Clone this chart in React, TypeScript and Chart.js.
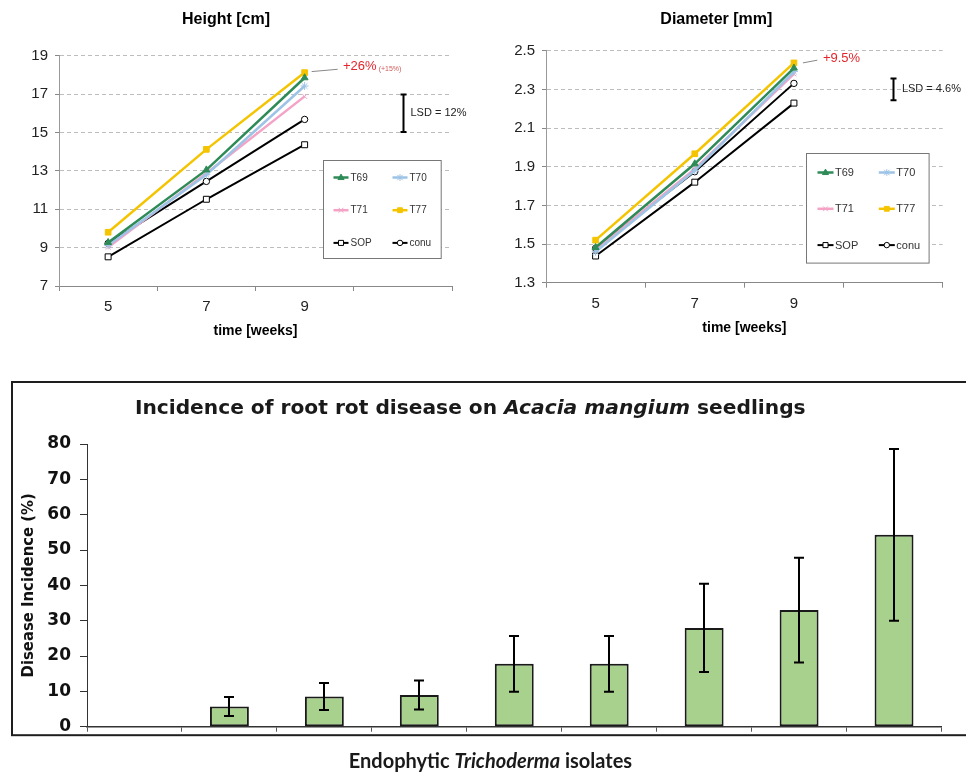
import React, { useEffect, useRef } from 'react';
import { Chart, registerables } from 'chart.js';

Chart.register(...registerables);

// ---------------- data ----------------
const WEEKS = ['5', '7', '9', ''];
const SERIES_NAMES = ['T69', 'T70', 'T71', 'T77', 'SOP', 'conu'];

const HEIGHT_T69 = [9.27, 13.05, 17.85];
const HEIGHT_T70 = [9.12, 12.8, 17.42];
const HEIGHT_T71 = [9.02, 12.88, 16.88];
const HEIGHT_T77 = [9.8, 14.12, 18.12];
const HEIGHT_SOP = [8.52, 11.52, 14.36];
const HEIGHT_CONU = [9.22, 12.45, 15.68];
const HEIGHT_TICKS = [7, 9, 11, 13, 15, 17, 19];
const HEIGHT_LSD = [15.02, 16.98];
const HEIGHT_LSD_LABEL = 'LSD = 12%';
const HEIGHT_GAIN = '+26%';
const HEIGHT_GAIN_SUB = '(+15%)';

const DIAM_T69 = [1.482, 1.915, 2.41];
const DIAM_T70 = [1.46, 1.88, 2.392];
const DIAM_T71 = [1.47, 1.888, 2.38];
const DIAM_T77 = [1.52, 1.967, 2.437];
const DIAM_SOP = [1.438, 1.82, 2.229];
const DIAM_CONU = [1.478, 1.874, 2.331];
const DIAM_TICKS = [1.3, 1.5, 1.7, 1.9, 2.1, 2.3, 2.5];
const DIAM_LSD = [2.244, 2.356];
const DIAM_LSD_LABEL = 'LSD = 4.6%';
const DIAM_GAIN = '+9.5%';
const DIAM_GAIN_SUB = '';

const ISOLATES = ['1', '2', '3', '4', '5', '6', '7', '8', '9'];
const DISEASE = [null, 5.7, 8.55, 9.0, 17.8, 17.8, 27.95, 33.0, 54.3];
const DISEASE_ERR = [null, 2.7, 3.8, 4.1, 7.9, 7.9, 12.5, 14.8, 24.3];
const DISEASE_TICKS_STEP = 10;
const BAR_TITLE = [
  { text: 'Incidence of root rot disease on ', italic: false },
  { text: 'Acacia mangium', italic: true },
  { text: ' seedlings', italic: false },
];
const BAR_X_TITLE = [
  { text: 'Endophytic ', italic: false },
  { text: 'Trichoderma', italic: true },
  { text: ' isolates', italic: false },
];
const BAR_Y_TITLE = 'Disease Incidence (%)';

// ---------------- styles ----------------
const SANS = '"Liberation Sans", Arial, sans-serif';
const NARROW = '"DejaVu Sans Condensed", "DejaVu Sans", sans-serif';

const SERIES_STYLES = [
  { color: '#2e8b57', fill: '#2e8b57', pointStyle: 'triangle', radius: 4, width: 2.5 },
  { color: '#9dc3e6', fill: '#9dc3e6', pointStyle: 'star', radius: 4, width: 2.5 },
  { color: '#f4a3c6', fill: '#f4a3c6', pointStyle: 'crossRot', radius: 3.5, width: 2.5 },
  { color: '#f5c400', fill: '#f5c400', pointStyle: 'rect', radius: 4, width: 2.5 },
  { color: '#000000', fill: '#ffffff', pointStyle: 'rect', radius: 4.2, width: 2 },
  { color: '#000000', fill: '#ffffff', pointStyle: 'circle', radius: 3.2, width: 2 },
];

function drawMarker(ctx, style, x, y, r) {
  ctx.save();
  ctx.fillStyle = style.fill;
  ctx.strokeStyle = style.color;
  ctx.lineWidth = 1;
  ctx.beginPath();
  if (style.pointStyle === 'triangle') {
    ctx.moveTo(x, y - r);
    ctx.lineTo(x + r * 0.9, y + r * 0.6);
    ctx.lineTo(x - r * 0.9, y + r * 0.6);
    ctx.closePath();
    ctx.fill();
    ctx.stroke();
  } else if (style.pointStyle === 'rect') {
    const s = r * Math.SQRT1_2;
    ctx.rect(x - s, y - s, 2 * s, 2 * s);
    ctx.fill();
    ctx.stroke();
  } else if (style.pointStyle === 'circle') {
    ctx.arc(x, y, r, 0, Math.PI * 2);
    ctx.fill();
    ctx.stroke();
  } else {
    const s = r * 0.8;
    ctx.moveTo(x - s, y - s); ctx.lineTo(x + s, y + s);
    ctx.moveTo(x - s, y + s); ctx.lineTo(x + s, y - s);
    if (style.pointStyle === 'star') { ctx.moveTo(x, y - r); ctx.lineTo(x, y + r); }
    ctx.stroke();
  }
  ctx.restore();
}

const growthDecor = {
  id: 'growthDecor',
  afterDraw(chart, _args, o) {
    const ctx = chart.ctx;
    const xs = chart.scales.x;
    const ys = chart.scales.y;
    const area = chart.chartArea;
    ctx.save();
    // LSD bar
    const lx = Math.round(xs.getPixelForValue(o.lsdIndex)) + 0.5;
    const ya = ys.getPixelForValue(o.lsd[1]);
    const yb = ys.getPixelForValue(o.lsd[0]);
    ctx.strokeStyle = '#000';
    ctx.lineWidth = 2;
    ctx.beginPath();
    ctx.moveTo(lx, ya); ctx.lineTo(lx, yb);
    ctx.moveTo(lx - 3, ya); ctx.lineTo(lx + 3, ya);
    ctx.moveTo(lx - 3, yb); ctx.lineTo(lx + 3, yb);
    ctx.stroke();
    ctx.fillStyle = '#222';
    ctx.font = `11px ${SANS}`;
    ctx.textBaseline = 'middle';
    ctx.textAlign = 'left';
    ctx.fillText(o.lsdLabel, lx + o.lsdTextDx, (ya + yb) / 2);
    // gain annotation
    const pt = chart.getDatasetMeta(o.gainDataset).data[o.gainIndex];
    ctx.strokeStyle = '#888';
    ctx.lineWidth = 1;
    ctx.beginPath();
    ctx.moveTo(pt.x + o.lead[0], pt.y + o.lead[1]);
    ctx.lineTo(pt.x + o.lead[2], pt.y + o.lead[3]);
    ctx.stroke();
    ctx.fillStyle = '#e3262c';
    ctx.font = `13px ${SANS}`;
    const tx = pt.x + o.textDx;
    const ty = pt.y + o.textDy;
    ctx.fillText(o.gain, tx, ty);
    if (o.gainSub) {
      const w = ctx.measureText(o.gain).width;
      ctx.fillStyle = '#d05a5a';
      ctx.font = `7px ${SANS}`;
      ctx.fillText(o.gainSub, tx + w + 2, ty + 3);
    }
    // legend box
    const L = o.legend;
    const bx = Math.round(area.right - L.fromRight) + 0.5;
    const by = Math.round(area.top + L.fromTop) + 0.5;
    ctx.fillStyle = '#fff';
    ctx.fillRect(bx, by, L.w, L.h);
    ctx.strokeStyle = '#777';
    ctx.lineWidth = 1;
    ctx.strokeRect(bx, by, L.w, L.h);
    ctx.font = `${L.font}px ${SANS}`;
    ctx.textBaseline = 'middle';
    chart.data.datasets.forEach((ds, i) => {
      const st = SERIES_STYLES[i];
      const col = i % 2;
      const row = Math.floor(i / 2);
      const cx = bx + L.cols[col];
      const cy = by + L.rowTop + row * L.rowGap;
      ctx.strokeStyle = st.color;
      ctx.lineWidth = st.width;
      ctx.beginPath();
      ctx.moveTo(cx, cy); ctx.lineTo(cx + L.lineLen, cy);
      ctx.stroke();
      drawMarker(ctx, st, cx + L.lineLen / 2, cy, st.radius * 0.85);
      ctx.fillStyle = '#333';
      ctx.fillText(ds.label, cx + L.lineLen + L.textGap, cy + 0.5);
    });
    ctx.restore();
  },
};

function growthConfig(p) {
  const datasets = p.series.map((vals, i) => {
    const st = SERIES_STYLES[i];
    return {
      label: SERIES_NAMES[i],
      data: vals,
      borderColor: st.color,
      backgroundColor: st.fill,
      borderWidth: st.width,
      pointStyle: st.pointStyle,
      pointRadius: st.radius,
      pointBackgroundColor: st.fill,
      pointBorderColor: st.color,
      pointBorderWidth: 1,
      tension: 0,
    };
  });
  return {
    type: 'line',
    data: { labels: WEEKS, datasets },
    options: {
      responsive: false,
      animation: false,
      layout: { padding: { top: 0, right: p.padRight, bottom: 0, left: 0 } },
      plugins: {
        legend: { display: false },
        tooltip: { enabled: false },
        title: {
          display: true,
          text: p.title,
          color: '#000',
          font: { family: SANS, size: 16, weight: 'bold' },
          padding: { top: 10, bottom: p.titleGap },
        },
        growthDecor: p.decor,
      },
      scales: {
        x: {
          type: 'category',
          offset: true,
          grid: { display: true, drawOnChartArea: false, offset: true, tickLength: 5, tickColor: '#888', color: '#888' },
          border: { color: '#888', width: 1 },
          ticks: { font: { family: SANS, size: 15 }, color: '#222', padding: 7, maxRotation: 0, autoSkip: false },
          title: {
            display: true,
            text: 'time [weeks]',
            color: '#000',
            font: { family: SANS, size: 14, weight: 'bold' },
            padding: { top: 0, bottom: p.xTitlePad },
          },
          afterFit: (s) => { s.height = p.xHeight; },
        },
        y: {
          min: p.ticks[0],
          max: p.ticks[p.ticks.length - 1],
          afterBuildTicks: (s) => { s.ticks = p.ticks.map((v) => ({ value: v })); },
          grid: { color: '#bdbdbd', lineWidth: 1, tickLength: 4, tickColor: '#888' },
          border: { color: '#999', width: 1, dash: [4, 3] },
          ticks: { font: { family: SANS, size: 15 }, color: '#222', padding: 7, callback: (v) => p.fmt(v) },
          afterFit: (s) => { s.width = p.yWidth; },
        },
      },
    },
    plugins: [growthDecor],
  };
}

const heightConfig = () => growthConfig({
  title: 'Height [cm]',
  series: [HEIGHT_T69, HEIGHT_T70, HEIGHT_T71, HEIGHT_T77, HEIGHT_SOP, HEIGHT_CONU],
  ticks: HEIGHT_TICKS,
  fmt: (v) => String(v),
  padRight: 28,
  titleGap: 26.5,
  xHeight: 59,
  xTitlePad: 5,
  yWidth: 59,
  decor: {
    lsdIndex: 3, lsd: HEIGHT_LSD, lsdLabel: HEIGHT_LSD_LABEL, lsdTextDx: 7,
    gainDataset: 3, gainIndex: 2, gain: HEIGHT_GAIN, gainSub: HEIGHT_GAIN_SUB,
    lead: [7, -1, 33, -3.3], textDx: 38.4, textDy: -6.3,
    legend: { fromRight: 128.7, fromTop: 104.3, w: 117.7, h: 98, rowTop: 17, rowGap: 32.7, cols: [10, 69], lineLen: 15, textGap: 2, font: 10 },
  },
});

const diamConfig = () => growthConfig({
  title: 'Diameter [mm]',
  series: [DIAM_T69, DIAM_T70, DIAM_T71, DIAM_T77, DIAM_SOP, DIAM_CONU],
  ticks: DIAM_TICKS,
  fmt: (v) => Number(v).toFixed(1),
  padRight: 23.3,
  titleGap: 21.5,
  xHeight: 62.3,
  xTitlePad: 8.3,
  yWidth: 56,
  decor: {
    lsdIndex: 3, lsd: DIAM_LSD, lsdLabel: DIAM_LSD_LABEL, lsdTextDx: 8.4,
    gainDataset: 3, gainIndex: 2, gain: DIAM_GAIN, gainSub: DIAM_GAIN_SUB,
    lead: [9, 0, 23.4, -2.7], textDx: 29, textDy: -4.4,
    legend: { fromRight: 137, fromTop: 102, w: 122.6, h: 109.6, rowTop: 19, rowGap: 36.3, cols: [11, 72.3], lineLen: 16, textGap: 1.5, font: 11 },
  },
});

function drawRich(ctx, parts, cx, cy, family, size) {
  const fontOf = (p) => `${p.italic ? 'italic ' : ''}bold ${size}px ${family}`;
  let total = 0;
  const widths = parts.map((p) => { ctx.font = fontOf(p); const w = ctx.measureText(p.text).width; total += w; return w; });
  let x = cx - total / 2;
  ctx.textAlign = 'left';
  ctx.textBaseline = 'middle';
  parts.forEach((p, i) => { ctx.font = fontOf(p); ctx.fillText(p.text, x, cy); x += widths[i]; });
}

const barDecor = {
  id: 'barDecor',
  afterDatasetsDraw(chart, _a, o) {
    const ctx = chart.ctx;
    const ys = chart.scales.y;
    const meta = chart.getDatasetMeta(0);
    ctx.save();
    ctx.strokeStyle = '#000';
    ctx.lineWidth = 2;
    DISEASE.forEach((v, i) => {
      const e = DISEASE_ERR[i];
      if (v == null || e == null) return;
      const x = Math.round(meta.data[i].x);
      const y1 = ys.getPixelForValue(v + e);
      const y0 = ys.getPixelForValue(v - e);
      ctx.beginPath();
      ctx.moveTo(x, y1); ctx.lineTo(x, y0);
      ctx.moveTo(x - o.cap, y1); ctx.lineTo(x + o.cap, y1);
      ctx.moveTo(x - o.cap, y0); ctx.lineTo(x + o.cap, y0);
      ctx.stroke();
    });
    ctx.restore();
  },
  afterDraw(chart, _a, o) {
    const ctx = chart.ctx;
    const area = chart.chartArea;
    ctx.save();
    ctx.strokeStyle = '#1e1e1e';
    ctx.lineWidth = 2;
    ctx.strokeRect(o.box[0], o.box[1], chart.width, area.bottom + o.box[2] - o.box[1]);
    ctx.fillStyle = '#1a1a1a';
    const mid = (area.left + area.right) / 2;
    drawRich(ctx, BAR_TITLE, mid + o.titleDx, area.top + o.titleDy, '"DejaVu Sans"', 20.2);
    drawRich(ctx, BAR_X_TITLE, mid + o.xTitleDx, area.bottom + o.xTitleDy, 'Lato, "Open Sans", sans-serif', 20);
    ctx.restore();
  },
};

const barConfig = () => ({
  type: 'bar',
  data: {
    labels: ISOLATES,
    datasets: [{
      data: DISEASE,
      backgroundColor: '#a9d18e',
      borderColor: '#1a1a1a',
      borderWidth: 2,
      borderSkipped: false,
      barPercentage: 0.41,
      categoryPercentage: 1,
    }],
  },
  options: {
    responsive: false,
    animation: false,
    layout: { padding: { top: 66, right: 24.5, bottom: 0, left: 0 } },
    plugins: {
      legend: { display: false },
      tooltip: { enabled: false },
      barDecor: { cap: 5, box: [12, 4, 8.5], titleDx: -44, titleDy: -35.3, xTitleDx: -23.8, xTitleDy: 35 },
    },
    scales: {
      x: {
        grid: { display: true, drawOnChartArea: false, offset: true, tickLength: 5, tickColor: '#555', color: '#555' },
        border: { color: '#333', width: 1.5 },
        ticks: { display: false },
        afterFit: (s) => { s.height = 48.3; },
      },
      y: {
        min: 0,
        max: 80,
        ticks: { stepSize: DISEASE_TICKS_STEP, font: { family: '"DejaVu Sans"', size: 17, weight: 'bold' }, color: '#111', padding: 9 },
        grid: { display: true, drawOnChartArea: false, tickLength: 7, tickColor: '#333', color: '#333' },
        border: { color: '#333', width: 1 },
        title: {
          display: true,
          text: BAR_Y_TITLE,
          color: '#111',
          font: { family: NARROW, size: 16.5, weight: 'bold' },
          padding: { top: 19, bottom: 0 },
        },
        afterFit: (s) => { s.width = 87; },
      },
    },
  },
  plugins: [barDecor],
});

function ChartCanvas({ make, left, top, width, height }) {
  const ref = useRef<HTMLCanvasElement>(null);
  useEffect(() => {
    const chart = new Chart(ref.current as HTMLCanvasElement, make());
    return () => chart.destroy();
  }, [make]);
  return (
    <canvas
      ref={ref}
      width={width}
      height={height}
      style={{ position: 'absolute', left, top, width, height, display: 'block' }}
    />
  );
}

export default function App() {
  return (
    <div style={{ position: 'absolute', left: 0, top: 0, width: 966, height: 775, overflow: 'hidden', background: '#fff' }}>
      <ChartCanvas make={heightConfig} left={0} top={0} width={480} height={345} />
      <ChartCanvas make={diamConfig} left={490} top={0} width={476} height={345} />
      <ChartCanvas make={barConfig} left={0} top={378} width={966} height={397} />
    </div>
  );
}
